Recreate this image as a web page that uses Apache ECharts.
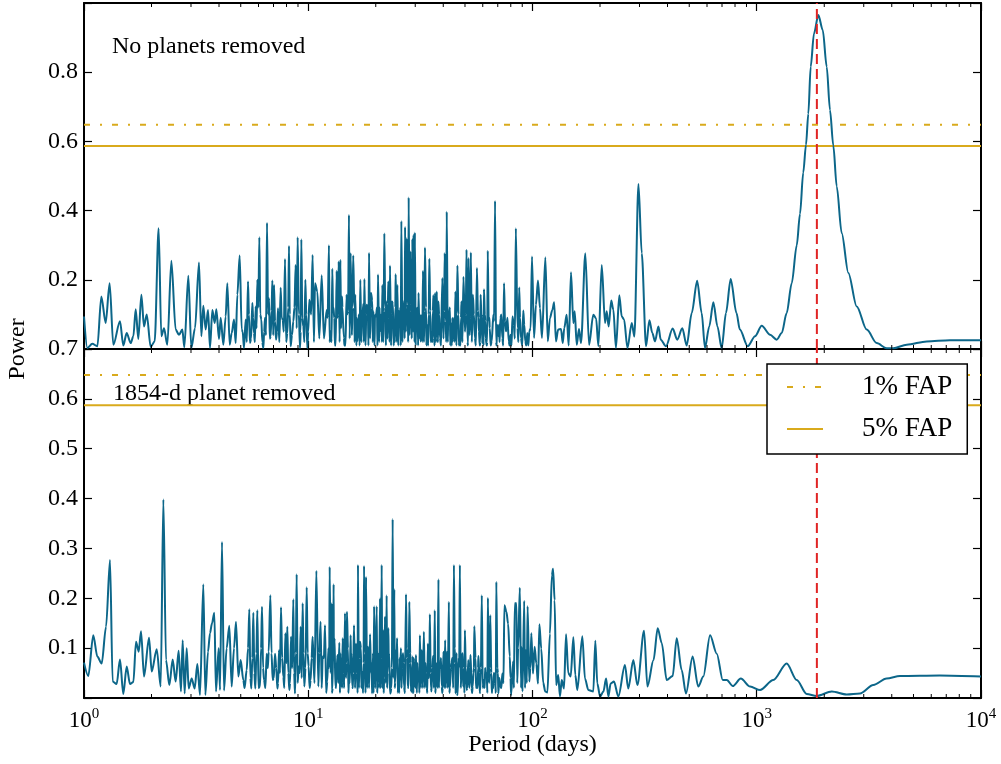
<!DOCTYPE html>
<html>
<head>
<meta charset="utf-8">
<script src="https://cdn.jsdelivr.net/npm/echarts@6/dist/echarts.min.js"></script>
<style>
html, body { margin: 0; padding: 0; background: #fff; }
#chart { width: 1001px; height: 764px; }
</style>
</head>
<body>
<div id="chart"></div>
<script>
// periodogram, no planets removed: [period (days), power]
const topShort = [
  [1.00,0.094],[1.035,0.003],[1.089,0.015],[1.147,0.008],[1.195,0.152],[1.249,0.075],[1.301,0.19],[1.351,0.012],
  [1.447,0.08],[1.497,0.01],[1.550,0.046],[1.615,0.017],[1.660,0.037],[1.700,0.115],[1.747,0.029],[1.802,0.157],
  [1.852,0.065],[1.904,0.10],[1.983,0.006],[2.066,0.022],[2.152,0.349],[2.212,0.037],[2.274,0.06],[2.353,0.012],
  [2.452,0.255],[2.563,0.056],[2.652,0.041],[2.745,0.056],[2.802,0.005],[2.919,0.212],[3.010,0.003],[3.126,0.06],
  [3.257,0.25],[3.336,0.037],[3.405,0.125],[3.487,0.056],[3.573,0.113],[3.647,0.003],[3.736,0.113],[3.826,0.075],
  [3.892,0.115],[4.000,0.029],[4.070,0.09],[4.182,0.012],[4.283,0.094],[4.357,0.19],[4.463,0.012],[4.556,0.046],
  [4.666,0.085],[4.747,0.017],[4.829,0.157],[4.946,0.27],[5.049,0.056],[5.170,0.003],[5.260,0.085],[5.386,0.195],
  [5.498,0.017],[5.631,0.133],[5.729,0.046],[5.828,0.123],[5.929,0.2],[6.052,0.323],[6.178,0.085],[6.306,0.003],
  [6.415,0.09],[6.548,0.365],[6.683,0.147],[6.800,0.037],[6.917,0.198],[7.037,0.185],[7.183,0.027],[7.331,0.118],
  [7.535,0.177],[7.691,0.085],[7.877,0.26],[8.067,0.046],[8.206,0.298],[8.348,0.008],[8.579,0.08],[8.787,0.243],
  [8.969,0.323],[9.187,0.003],[9.314,0.317],[9.509,0.065],[9.706,0.2],[9.906,0.003],[10.11,0.142],[10.46,0.272]
];
const topMid = [
  [10.72,0.19],[10.98,0.166],[11.20,0.03],[11.48,0.213],[11.75,0.03],[12.08,0.113],[12.37,0.3],[12.59,0.051],
  [12.80,0.232],[13.07,0.089],[13.39,0.226],[13.67,0.253],[13.91,0.258],[14.14,0.152],[14.43,0.032],[14.83,0.157],
  [15.19,0.388],[15.45,0.277],[15.87,0.27],[16.20,0.157],[16.54,0.022],[17.07,0.2],[17.43,0.089],[17.80,0.202],
  [18.23,0.128],[18.67,0.278],[19.05,0.162],[19.51,0.109],[20.06,0.094],[20.47,0.215],[20.90,0.051],[21.40,0.185],
  [21.84,0.334],[22.29,0.137],[22.76,0.195],[23.15,0.241],[23.63,0.137],[24.11,0.061],[24.53,0.216],[24.96,0.185],
  [25.48,0.07],[26.01,0.37],[26.56,0.109],[27.02,0.353],[27.48,0.32],[28.04,0.438],[28.52,0.282],[29.12,0.318],
  [29.48,0.33],[29.88,0.337],[30.40,0.061],[31.03,0.162],[31.69,0.022],[32.48,0.226],[33.15,0.293],[33.85,0.07],
  [34.67,0.261],[35.40,0.041],[36.14,0.155],[36.77,0.162],[37.42,0.166],[38.03,0.137],[38.67,0.032],[39.62,0.205],
  [40.60,0.277],[41.45,0.397],[42.32,0.089],[43.21,0.075],[44.09,0.022],[45.31,0.166],[46.26,0.241],[47.23,0.032],
  [48.21,0.137],[49.22,0.209],[50.79,0.287],[51.84,0.263],[53.10,0.279],[54.21,0.157],[55.34,0.032],[56.50,0.234],
  [57.68,0.051],[58.69,0.157],[59.70,0.017],[60.74,0.173],[61.82,0.032],[63.16,0.284],[64.44,0.061],[65.78,0.022],
  [68.07,0.428],[69.48,0.07],[70.67,0.036],[71.89,0.089],[73.39,0.032],[74.66,0.19],[76.22,0.051],[78.36,0.022],
  [79.73,0.041],[81.40,0.094],[82.53,0.07],[84.27,0.349],[85.74,0.061],[87.25,0.178],[88.78,0.032],[90.95,0.111],
  [92.86,0.022],[94.80,0.046],[96.78,0.051],[99.48,0.267],[101.6,0.032],[103.6,0.128],[105.8,0.198],[108.0,0.118],
  [110.2,0.032],[114.1,0.265],[117.0,0.022],[119.6,0.089],[122.6,0.113],[124.9,0.135],[127.2,0.022],[130.1,0.056]
];
// the dense low-level band between the tall peaks
const topBand = [
  [5.10,0.05],[5.32,0.02],[5.44,0.1],[5.56,0.03],[5.68,0.09],[5.78,0.02],[5.88,0.06],[5.99,0.12],[6.11,0.1],
  [6.24,0.02],[6.36,0.05],[6.48,0.04],[6.62,0.1],[6.74,0.03],[6.86,0.11],[6.98,0.04],[7.11,0.08],[7.26,0.05],
  [7.43,0.02],[7.61,0.09],[7.78,0.05],[7.97,0.02],[8.14,0.12],[8.27,0.1],[8.46,0.04],[8.68,0.12],[8.88,0.06],
  [9.08,0.1],[9.25,0.05],[9.41,0.09],[9.61,0.02],[9.80,0.1],[10.0,0.05],[10.3,0.1],[10.6,0.02],
  [12.2,0.09],[12.7,0.02],[12.95,0.12],[13.25,0.01],[13.55,0.1],[14.0,0.06],[14.3,0.12],[14.65,0.01],[15.05,0.11],
  [15.65,0.04],[16.05,0.12],[16.4,0.01],[16.8,0.1],[17.25,0.02],[17.6,0.13],[18.0,0.01],[18.45,0.11],[18.85,0.03],
  [19.3,0.14],[19.75,0.01],[20.25,0.12],[20.7,0.02],[21.15,0.1],[21.6,0.02],[22.05,0.12],[22.55,0.03],[22.95,0.09],
  [23.4,0.01],[23.85,0.13],[24.35,0.02],[24.75,0.1],[25.2,0.01],[25.75,0.12],[26.3,0.02],[26.8,0.14],[27.25,0.05],
  [27.75,0.13],[28.3,0.04],[28.8,0.11],[29.3,0.05],[29.7,0.12],[30.15,0.01],[30.7,0.12],[31.35,0.03],[32.1,0.1],
  [32.8,0.02],[33.5,0.12],[34.25,0.01],[35.0,0.11],[35.8,0.02],[36.45,0.03],[37.1,0.02],[37.75,0.03],[38.35,0.1],
  [39.1,0.01],[40.1,0.03],[41.0,0.08],[41.9,0.02],[42.8,0.12],[43.65,0.01],[44.7,0.09],[45.8,0.01],[46.75,0.1],
  [47.7,0.01],[48.7,0.02],[50.0,0.05],[51.3,0.02],[52.45,0.04],[53.65,0.02],[54.8,0.1],[55.9,0.01],[57.1,0.11],
  [58.2,0.01],[59.2,0.09],[60.2,0.08],[61.3,0.1],[62.5,0.01],[63.8,0.08],[65.1,0.01],[66.9,0.1],[68.8,0.02],
  [71.3,0.02],[72.6,0.1],[74.0,0.01],[75.4,0.08],[77.3,0.09],[79.0,0.01],[80.6,0.01],[83.4,0.03],[86.5,0.02],
  [88.0,0.09],[90.0,0.01],[91.9,0.07],[93.8,0.01],[95.8,0.01],[98.1,0.06]
];
const topBand2 = [
  [12.45,0.02],[12.9,0.11],[13.15,0.01],[13.45,0.09],[13.8,0.02],[14.2,0.12],[14.5,0.01],[14.9,0.1],[15.3,0.03],
  [15.75,0.12],[16.1,0.02],[16.45,0.09],[16.95,0.01],[17.35,0.11],[17.7,0.02],[18.15,0.1],[18.55,0.01],[19.0,0.12],
  [19.4,0.02],[19.85,0.1],[20.35,0.01],[20.8,0.12],[21.3,0.02],[21.7,0.11],[22.2,0.01],[22.65,0.13],[23.05,0.02],
  [23.55,0.1],[24.05,0.01],[24.45,0.12],[24.85,0.02],[25.35,0.11],[25.85,0.01],[26.45,0.13],[26.9,0.03],[27.35,0.12],
  [27.9,0.02],[28.4,0.13],[28.95,0.03],[29.4,0.11],[29.8,0.02],[30.3,0.12],[30.9,0.01],[31.5,0.1],[32.25,0.02],
  [33.0,0.11],[33.65,0.01],[34.45,0.1],[35.2,0.02],[35.95,0.11],[36.6,0.01],[37.25,0.09],[37.9,0.02],[38.5,0.1],
  [39.35,0.01],[40.35,0.11],[41.25,0.02],[42.1,0.1],[43.0,0.01],[43.9,0.09],[45.0,0.02],[46.0,0.1],[47.0,0.01],
  [48.0,0.09],[49.0,0.02],[50.4,0.1],[51.6,0.01],[52.8,0.09],[54.0,0.02],[55.1,0.1],[56.2,0.01],[57.4,0.09],
  [58.45,0.02],[59.45,0.1],[60.5,0.01],[61.6,0.08],[62.8,0.02],[64.2,0.09],[65.4,0.01],[67.4,0.08],[69.2,0.01],
  [70.9,0.07]
];
const topLong = [
  [134.0,0.058],[136.4,0.017],[138.6,0.061],[142.0,0.099],[145.0,0.01],[148.5,0.222],[152.1,0.075],[154.2,0.109],
  [157.5,0.012],[161.2,0.058],[164.6,0.017],[172.0,0.277],[178.7,0.012],[186.7,0.099],[192.1,0.089],[196.7,0.008],
  [203.6,0.243],[210.6,0.075],[214.2,0.109],[218.6,0.065],[224.5,0.14],[229.3,0.114],[235.6,0.003],[243.8,0.155],
  [250.0,0.094],[256.1,0.085],[265.0,0.003],[277.2,0.075],[284.7,0.036],[296.8,0.477],[307.0,0.277],[320.9,0.008],
  [332.1,0.083],[342.3,0.046],[351.9,0.022],[364.3,0.065],[373.2,0.027],[393.8,0.008],[421.8,0.059],[442.1,0.027],
  [465.6,0.06],[487.0,0.01],[513,0.104],[542.3,0.197],[568,0.104],[587.8,0.003],[614,0.065],[640.4,0.135],
  [668,0.065],[697.5,0.002],[729,0.104],[765.2,0.202],[812,0.104],[840.8,0.056],[911.3,0.008],[983,0.037],
  [1052,0.067],[1147,0.041],[1228,0.027],[1292,0.046],[1360,0.104],[1432,0.19],[1508,0.30],[1559,0.39],
  [1612,0.51],[1658,0.59],[1698,0.68],[1740,0.816],[1800,0.912],[1882,0.965],[1969,0.922],[2051,0.816],
  [2121,0.691],[2195,0.588],[2273,0.47],[2392,0.335],[2561,0.22],[2791,0.123],[3093,0.056],[3427,0.017],
  [3797,0.002],[4063,0.002],[4664,0.0125],[5728,0.022],[7274,0.025],[10000,0.025]
];

// periodogram, 1854-d planet removed
const bottomShort = [
  [1.00,0.071],[1.045,0.044],[1.100,0.126],[1.147,0.083],[1.199,0.069],[1.254,0.143],[1.306,0.277],[1.342,0.033],
  [1.398,0.028],[1.447,0.077],[1.497,0.008],[1.550,0.063],[1.604,0.028],[1.660,0.032],[1.706,0.113],[1.753,0.093],
  [1.796,0.134],[1.852,0.043],[1.950,0.121],[2.004,0.053],[2.110,0.098],[2.198,0.023],[2.259,0.398],[2.321,0.076],
  [2.402,0.026],[2.486,0.077],[2.563,0.033],[2.643,0.095],[2.707,0.013],[2.754,0.116],[2.811,0.009],[2.870,0.1],
  [2.929,0.019],[3.021,0.039],[3.115,0.019],[3.202,0.068],[3.291,0.006],[3.405,0.228],[3.476,0.006],[3.573,0.093],
  [3.647,0.13],[3.722,0.15],[3.812,0.171],[3.878,0.013],[3.986,0.1],[4.041,0.016],[4.125,0.313],[4.210,0.015],
  [4.326,0.1],[4.447,0.145],[4.555,0.023],[4.666,0.1],[4.762,0.153],[4.878,0.043],[4.996,0.076],[5.134,0.036],
  [5.313,0.056],[5.461,0.178],[5.575,0.019],[5.691,0.171],[5.808,0.019],[5.929,0.176],[6.094,0.023],[6.220,0.183],
  [6.35,0.036],[6.526,0.089],[6.661,0.093],[6.776,0.206],[6.940,0.036],[7.108,0.089],[7.280,0.019],[7.406,0.096],
  [7.560,0.182],[7.743,0.043],[7.904,0.13],[8.067,0.143],[8.234,0.016],[8.376,0.123],[8.579,0.198],[8.728,0.009],
  [8.879,0.248],[9.064,0.063],[9.252,0.143],[9.443,0.19],[9.605,0.023],[9.842,0.222],[10.04,0.063],[10.25,0.036],
  [10.46,0.123],[10.87,0.255]
];
const bottomMid = [
  [11.09,0.023],[11.35,0.153],[11.60,0.083],[11.88,0.146],[12.16,0.033],[12.46,0.263],[12.72,0.19],[12.98,0.228],
  [13.21,0.023],[13.48,0.086],[13.76,0.111],[14.05,0.023],[14.24,0.12],[14.58,0.17],[14.88,0.173],[15.19,0.036],
  [15.45,0.126],[15.72,0.023],[16.00,0.146],[16.33,0.109],[16.66,0.267],[17.01,0.113],[17.36,0.053],[17.73,0.265],
  [18.10,0.243],[18.48,0.103],[18.86,0.128],[19.26,0.009],[19.66,0.184],[20.20,0.184],[20.55,0.089],[20.90,0.2],
  [21.26,0.267],[21.62,0.136],[21.99,0.163],[22.37,0.206],[22.76,0.14],[23.15,0.009],[23.79,0.359],[24.20,0.218],
  [24.62,0.096],[25.22,0.059],[25.65,0.036],[26.18,0.061],[26.73,0.023],[27.28,0.208],[27.76,0.023],[28.23,0.193],
  [28.72,0.013],[29.21,0.083],[29.71,0.023],[30.22,0.086],[30.83,0.033],[31.46,0.126],[32.11,0.096],[32.77,0.133],
  [33.45,0.049],[34.14,0.109],[34.85,0.168],[35.45,0.013],[36.05,0.084],[36.67,0.176],[37.31,0.056],[38.08,0.238],
  [38.74,0.063],[39.41,0.023],[40.09,0.093],[40.79,0.116],[41.50,0.093],[42.37,0.193],[43.25,0.059],[44.62,0.267],
  [45.39,0.009],[46.32,0.006],[47.44,0.267],[48.42,0.076],[49.09,0.023],[49.94,0.136],[50.81,0.016],[51.69,0.076],
  [52.95,0.086],[54.07,0.023],[55.02,0.144],[56.40,0.023],[57.38,0.084],[58.39,0.013],[59.41,0.206],[60.66,0.036],
  [61.72,0.043],[63.25,0.201],[64.81,0.166],[66.18,0.023],[67.56,0.049],[68.97,0.233],[70.41,0.009],[71.89,0.023],
  [73.39,0.049],[74.93,0.186],[76.50,0.173],[77.84,0.149],[79.19,0.083],[80.29,0.006],[81.96,0.073],[83.38,0.19],
  [84.82,0.19],[86.29,0.1],[87.79,0.221],[89.32,0.103],[90.25,0.013],[91.83,0.195],[93.45,0.096],[95.10,0.184],
  [96.78,0.033],[98.81,0.13],[100.5,0.049],[102.2,0.103],[104.0,0.069],[105.8,0.029],[107.3,0.148],[109.4,0.099],
  [111.6,0.031],[114.0,0.013],[116.5,0.011],[119.6,0.129],[122.0,0.246],[123.5,0.259],[125.5,0.196],[127.5,0.026],
  [130.2,0.046]
];
const bottomBand = [
  [5.20,0.02],[5.39,0.1],[5.52,0.04],[5.63,0.08],[5.75,0.05],[5.87,0.09],[6.00,0.02],[6.16,0.1],[6.29,0.06],
  [6.44,0.02],[6.60,0.06],[6.86,0.09],[7.02,0.04],[7.20,0.06],[7.34,0.03],[7.48,0.05],[7.65,0.08],[7.82,0.02],
  [7.99,0.07],[8.15,0.05],[8.30,0.03],[8.48,0.06],[8.65,0.05],[8.80,0.09],[8.97,0.03],[9.16,0.05],[9.35,0.04],
  [9.52,0.09],[9.72,0.06],[9.94,0.09],[10.14,0.02],[10.35,0.08],[10.66,0.03],
  [11.2,0.09],[11.48,0.02],[11.74,0.08],[12.02,0.01],[12.3,0.1],[12.59,0.05],[12.85,0.02],[13.1,0.12],[13.35,0.02],
  [13.62,0.03],[13.9,0.09],[14.15,0.02],[14.4,0.05],[14.73,0.04],[15.03,0.1],[15.32,0.03],[15.58,0.09],[15.86,0.05],
  [16.17,0.02],[16.5,0.05],[16.83,0.02],[17.18,0.1],[17.55,0.01],[17.9,0.09],[18.3,0.02],[18.67,0.02],[19.05,0.05],
  [19.45,0.09],[19.92,0.02],[20.37,0.03],[20.72,0.02],[21.08,0.05],[21.44,0.02],[21.8,0.04],[22.18,0.03],[22.56,0.05],
  [22.95,0.09],[23.45,0.02],[24.0,0.04],[24.4,0.03],[24.9,0.12],[25.45,0.01],[25.9,0.1],[26.45,0.09],[27.0,0.01],
  [27.5,0.1],[28.0,0.02],[28.5,0.09],[28.95,0.06],[29.45,0.01],[29.95,0.07],[30.5,0.01],[31.15,0.05],[31.8,0.02],
  [32.45,0.02],[33.1,0.02],[33.8,0.02],[34.5,0.04],[35.15,0.05],[35.75,0.06],[36.35,0.02],[37.0,0.02],[37.7,0.02],
  [38.4,0.07],[39.05,0.08],[39.75,0.02],[40.45,0.02],[41.15,0.02],[41.9,0.02],[42.8,0.02],[43.9,0.08],[45.0,0.1],
  [45.85,0.09],[46.9,0.08],[47.9,0.02],[48.75,0.09],[49.5,0.05],[50.4,0.06],[51.25,0.02],[52.3,0.02],[53.5,0.02],
  [54.5,0.05],[55.7,0.08],[56.9,0.02],[57.9,0.05],[58.9,0.06],[60.0,0.02],[61.2,0.02],[62.5,0.05],[64.0,0.03],
  [65.5,0.05],[66.9,0.02],[68.3,0.03],[69.7,0.06],[71.1,0.04],[72.6,0.02],[74.2,0.03],[79.8,0.04],[82.6,0.02],
  [85.5,0.03],[89.0,0.02],[92.6,0.02],[94.3,0.03],[97.8,0.06]
];
const bottomBand2 = [
  [12.4,0.06],[12.75,0.01],[13.0,0.08],[13.3,0.02],[13.55,0.07],[13.85,0.01],[14.1,0.08],[14.45,0.02],[14.8,0.07],
  [15.1,0.01],[15.5,0.08],[15.8,0.02],[16.25,0.07],[16.6,0.01],[16.9,0.08],[17.25,0.02],[17.65,0.07],[18.0,0.01],
  [18.4,0.08],[18.78,0.02],[19.15,0.07],[19.55,0.01],[19.8,0.08],[20.3,0.01],[20.65,0.07],[21.0,0.02],[21.35,0.08],
  [21.7,0.01],[22.1,0.07],[22.48,0.02],[22.85,0.08],[23.3,0.01],[23.6,0.06],[24.3,0.02],[24.75,0.07],[25.1,0.01],
  [25.55,0.08],[26.05,0.02],[26.6,0.07],[27.15,0.01],[27.65,0.08],[28.1,0.02],[28.6,0.07],[29.1,0.01],[29.6,0.08],
  [30.1,0.02],[30.65,0.07],[31.3,0.01],[31.95,0.08],[32.6,0.02],[33.3,0.07],[33.95,0.01],[34.7,0.07],[35.3,0.02],
  [36.2,0.07],[36.85,0.01],[37.5,0.07],[38.25,0.02],[38.9,0.06],[39.6,0.01],[40.3,0.07],[41.0,0.02],[41.7,0.07],
  [42.6,0.01],[43.5,0.07],[44.3,0.02],[45.2,0.07],[46.1,0.01],[47.1,0.06],[48.1,0.02],[48.9,0.06],[49.7,0.01],
  [50.6,0.06],[51.5,0.02],[52.6,0.06],[53.8,0.01],[54.8,0.06],[56.0,0.02],[57.2,0.06],[58.2,0.01],[59.2,0.06],
  [60.4,0.02],[61.5,0.06],[62.9,0.01],[64.5,0.06],[65.9,0.01],[67.2,0.05],[68.6,0.01],[70.1,0.05]
];
const bottomLong = [
  [132.6,0.003],[135.0,0.036],[138.2,0.019],[141.1,0.128],[144.4,0.05],[148.0,0.043],[152.1,0.122],[155.2,0.046],
  [158.5,0.016],[166.8,0.124],[171.4,0.039],[177.4,0.016],[186.7,0.013],[190.6,0.115],[194.5,0.029],[200.2,0.003],
  [207.1,0.013],[212.9,0.039],[217.9,0.003],[223.1,0.029],[230.8,0.033],[241.4,0.003],[258.3,0.066],[267.3,0.019],
  [281.6,0.076],[293.6,0.026],[314.4,0.135],[325.4,0.023],[346.5,0.076],[361.6,0.14],[377.1,0.11],[396.6,0.036],
  [421.8,0.044],[439.5,0.12],[462.6,0.056],[483.5,0.009],[517.6,0.083],[548.4,0.023],[577.7,0.043],[619.2,0.126],
  [663.4,0.089],[705.5,0.036],[735.4,0.036],[781.9,0.024],[849.1,0.039],[934.1,0.023],[1035,0.016],[1185,0.036],
  [1360,0.069],[1508,0.036],[1670,0.008],[1850,0.004],[2160,0.013],[2519,0.007],[2886,0.009],[3310,0.026],
  [3794,0.039],[4352,0.044],[6543,0.045],[10000,0.043]
];

const fap1 = 0.648;   // 1% false alarm probability
const fap5 = 0.587;   // 5% false alarm probability
const planetPeriod = 1854;
const minorTicks = [2,3,4,5,6,7,8,9, 20,30,40,50,60,70,80,90,
  200,300,400,500,600,700,800,900, 2000,3000,4000,5000,6000,7000,8000,9000];

const serif = '"Liberation Serif", "DejaVu Serif", serif';
const blue = '#0c6689';
const gold = '#d9aa1c';
const red = '#e02424';

const byPeriod = (a, b) => a[0] - b[0];
const topData = topShort.concat(topMid, topBand, topBand2, topLong).sort(byPeriod);
const bottomData = bottomShort.concat(bottomMid, bottomBand, bottomBand2, bottomLong).sort(byPeriod);

const chart = echarts.init(document.getElementById('chart'));

// x axes: 0 top-bottom, 1 top-top, 2 bottom-bottom, 3 bottom-top
const xAxes = [];
[0, 1].forEach(g => {
  ['bottom', 'top'].forEach(pos => {
    const withLabels = g === 1 && pos === 'bottom';
    xAxes.push({
      type: 'log', logBase: 10, min: 1, max: 10000, gridIndex: g, position: pos,
      axisLine: { onZero: false, lineStyle: { color: '#000', width: 2 } },
      axisTick: { inside: true, length: 8, lineStyle: { color: '#000', width: 1.2 } },
      splitLine: { show: false },
      axisLabel: {
        show: withLabels, margin: 9, color: '#000',
        formatter: v => '{b|10}{s|' + Math.round(Math.log10(v)) + '}',
        rich: {
          b: { fontSize: 23, fontFamily: serif, color: '#000', verticalAlign: 'bottom' },
          s: { fontSize: 15, fontFamily: serif, color: '#000', verticalAlign: 'bottom', padding: [0, 0, 10, 0] }
        }
      },
      name: withLabels ? 'Period (days)' : '',
      nameLocation: 'middle', nameGap: 35,
      nameTextStyle: { fontSize: 24, fontFamily: serif, color: '#000' }
    });
  });
});

// y axes: 0 top-left, 1 top-right, 2 bottom-left, 3 bottom-right
const yAxes = [];
[[0, 1.0, 0.2], [0, 0.7, 0.1]].forEach((r, g) => {
  ['left', 'right'].forEach(pos => {
    yAxes.push({
      type: 'value', gridIndex: g, position: pos, min: r[0], max: r[1], interval: r[2],
      axisLine: { show: true, onZero: false, lineStyle: { color: '#000', width: 2 } },
      axisTick: { inside: true, length: 8, lineStyle: { color: '#000', width: 1.2 } },
      splitLine: { show: false },
      axisLabel: {
        show: pos === 'left', margin: 6, color: '#000', fontSize: 24, fontFamily: serif,
        formatter: v => (v <= 0.001 || v >= 0.999) ? '' : v.toFixed(1)
      }
    });
  });
});

function fapSeries(name, level, type, xi, yi) {
  return {
    type: 'line', name: name, xAxisIndex: xi, yAxisIndex: yi,
    data: [[1, level], [10000, level]], symbol: 'none', silent: true, z: 1,
    itemStyle: { color: gold },
    lineStyle: { color: gold, width: 2, type: type }
  };
}

function powerSeries(data, xi, yi) {
  return {
    type: 'line', name: 'power', xAxisIndex: xi, yAxisIndex: yi, data: data,
    symbol: 'none', smooth: 0.3, smoothMonotone: 'x', silent: true, z: 2,
    lineStyle: { color: blue, width: 2 }, itemStyle: { color: blue }
  };
}

function planetSeries(top, xi, yi) {
  return {
    type: 'line', name: 'planet', xAxisIndex: xi, yAxisIndex: yi,
    data: [[planetPeriod, 0], [planetPeriod, top]], symbol: 'none', silent: true, z: 3,
    lineStyle: { color: red, width: 2, type: [10, 5] }, itemStyle: { color: red }
  };
}

// minor log ticks (2..9 per decade) on the top and bottom edge of a panel
function minorTickSeries(xi, yi) {
  return {
    type: 'custom', xAxisIndex: xi, yAxisIndex: yi, silent: true, clip: false, z: 4,
    data: minorTicks.map(v => [v, 0]),
    renderItem: (params, api) => {
      const cs = params.coordSys;
      const x = api.coord([api.value(0), 0])[0];
      const yb = cs.y + cs.height, yt = cs.y;
      const st = { stroke: '#000', lineWidth: 1 };
      return {
        type: 'group', children: [
          { type: 'line', shape: { x1: x, y1: yb, x2: x, y2: yb - 4 }, style: st },
          { type: 'line', shape: { x1: x, y1: yt, x2: x, y2: yt + 4 }, style: st }
        ]
      };
    }
  };
}

const dashDot = [6, 10, 2, 10];

const option = {
  animation: false,
  backgroundColor: '#fff',
  textStyle: { fontFamily: serif },
  grid: [
    { left: 84, right: 20, top: 3, height: 346 },
    { left: 84, right: 20, top: 349, height: 349 }
  ],
  xAxis: xAxes,
  yAxis: yAxes,
  legend: {
    data: ['1% FAP', '5% FAP'],
    orient: 'vertical', left: 767, top: 364,
    padding: [9, 15, 11, 19], itemGap: 14,
    itemWidth: 36, itemHeight: 14,
    itemStyle: { color: 'rgba(0,0,0,0)', borderWidth: 0, opacity: 0 },
    backgroundColor: '#fff', borderColor: '#000', borderWidth: 1.5, borderRadius: 0,
    textStyle: { fontSize: 27, fontFamily: serif, color: '#000', lineHeight: 28, padding: [0, 0, 0, 34] }
  },
  graphic: [
    { type: 'text', x: 112, y: 47, style: { text: 'No planets removed', fontSize: 24, fontFamily: serif, fill: '#000', verticalAlign: 'middle' } },
    { type: 'text', x: 113, y: 394, style: { text: '1854-d planet removed', fontSize: 24, fontFamily: serif, fill: '#000', verticalAlign: 'middle' } },
    { type: 'text', x: 18, y: 349, rotation: Math.PI / 2, style: { text: 'Power', fontSize: 24, fontFamily: serif, fill: '#000', align: 'center', verticalAlign: 'middle' } }
  ],
  series: [
    fapSeries('1% FAP', fap1, dashDot, 0, 0),
    fapSeries('5% FAP', fap5, 'solid', 0, 0),
    fapSeries('1% FAP', fap1, dashDot, 2, 2),
    fapSeries('5% FAP', fap5, 'solid', 2, 2),
    powerSeries(topData, 0, 0),
    powerSeries(bottomData, 2, 2),
    planetSeries(1.0, 0, 0),
    planetSeries(0.7, 2, 2),
    minorTickSeries(0, 0),
    minorTickSeries(2, 2)
  ]
};

chart.setOption(option);
</script>
</body>
</html>
